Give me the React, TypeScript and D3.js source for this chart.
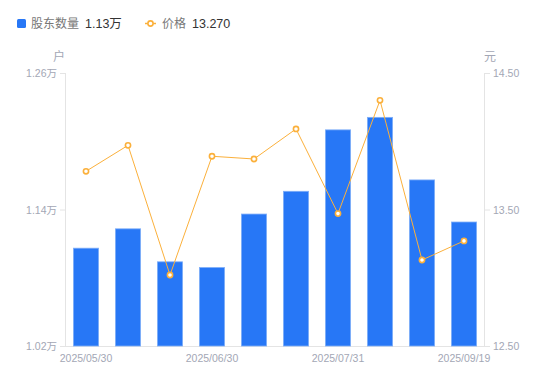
import React from "react";
import * as d3 from "d3";

const dates = ["2025/05/30", "2025/06/10", "2025/06/20", "2025/06/30", "2025/07/10", "2025/07/20", "2025/07/31", "2025/08/31", "2025/09/10", "2025/09/19"];
const holders = [1.106, 1.123, 1.094, 1.089, 1.136, 1.156, 1.210, 1.221, 1.166, 1.129];
const prices = [13.78, 13.97, 13.02, 13.89, 13.87, 14.09, 13.47, 14.30, 13.13, 13.27];
const leftTicks = [1.02, 1.14, 1.26];
const rightTicks = [12.5, 13.5, 14.5];
const shownDates = ["2025/05/30", "2025/06/30", "2025/07/31", "2025/09/19"];

const W = 550, H = 381;
const left = 65, right = 485, top = 73, bottom = 346;
const BLUE = "#2777F6";
const ORANGE = "#FBB03B";
const TICK = "#A3A7B5";
const FONT = "'Liberation Sans', 'Noto Sans CJK SC', sans-serif";

export default function App() {
  const x = d3.scaleBand<string>().domain(dates).range([left, right]).paddingInner(0.4).paddingOuter(0.2);
  const xc = (d: string) => (x(d) as number) + x.bandwidth() / 2;
  const yL = d3.scaleLinear().domain([1.02, 1.26]).range([bottom, top]);
  const yR = d3.scaleLinear().domain([12.5, 14.5]).range([bottom, top]);
  const line = d3.line<number>().x((_, i) => xc(dates[i])).y((d) => yR(d));

  return (
    <svg width={W} height={H} style={{ position: "absolute", left: 0, top: 0, fontFamily: FONT }}>
      <rect width={W} height={H} fill="#fff" />
      {/* legend */}
      <rect x={17} y={19} width={9} height={9} rx={1.5} fill={BLUE} />
      <text x={31} y={28} fontSize={12} fill="#777">股东数量</text>
      <text x={85} y={28} fontSize={12.5} fill="#333">1.13万</text>
      <line x1={145} x2={156} y1={23.5} y2={23.5} stroke={ORANGE} strokeWidth={1.5} />
      <circle cx={150.5} cy={23.5} r={2.6} fill="#fff" stroke={ORANGE} strokeWidth={1.6} />
      <text x={162} y={28} fontSize={12} fill="#777">价格</text>
      <text x={192} y={28} fontSize={12.5} fill="#333">13.270</text>
      {/* units */}
      <text x={59} y={61} fontSize={12} fill={TICK} textAnchor="middle">户</text>
      <text x={490} y={61} fontSize={12} fill={TICK} textAnchor="middle">元</text>
      {/* axes */}
      <line x1={left + 0.5} x2={left + 0.5} y1={top} y2={bottom} stroke="#E4E4E4" />
      <line x1={right - 0.5} x2={right - 0.5} y1={top} y2={bottom} stroke="#E4E4E4" />
      <line x1={left} x2={right} y1={bottom + 0.5} y2={bottom + 0.5} stroke="#E4E4E4" />
      {leftTicks.map((t) => (
        <g key={"l" + t}>
          <line x1={left - 5} x2={left} y1={yL(t) + 0.5} y2={yL(t) + 0.5} stroke="#E4E4E4" />
          <text x={left - 8} y={yL(t) + 4} fontSize={10.5} fill={TICK} textAnchor="end">{t.toFixed(2) + "万"}</text>
        </g>
      ))}
      {rightTicks.map((t) => (
        <g key={"r" + t}>
          <line x1={right} x2={right + 5} y1={yR(t) + 0.5} y2={yR(t) + 0.5} stroke="#E4E4E4" />
          <text x={right + 8} y={yR(t) + 4} fontSize={10.5} fill={TICK} textAnchor="start">{t.toFixed(2)}</text>
        </g>
      ))}
      {shownDates.map((d) => (
        <text key={d} x={xc(d)} y={362} fontSize={10.5} fill={TICK} textAnchor="middle">{d}</text>
      ))}
      {/* bars */}
      {holders.map((v, i) => (
        <rect key={i} x={x(dates[i]) as number} y={yL(v)} width={x.bandwidth()} height={bottom - yL(v)}
          fill={BLUE} stroke="#7FAEF8" strokeWidth={0.8} />
      ))}
      {/* line */}
      <path d={line(prices) || ""} fill="none" stroke={ORANGE} strokeWidth={1} />
      {prices.map((p, i) => (
        <circle key={i} cx={xc(dates[i])} cy={yR(p)} r={2.6} fill="#fff" stroke={ORANGE} strokeWidth={1.6} />
      ))}
    </svg>
  );
}
